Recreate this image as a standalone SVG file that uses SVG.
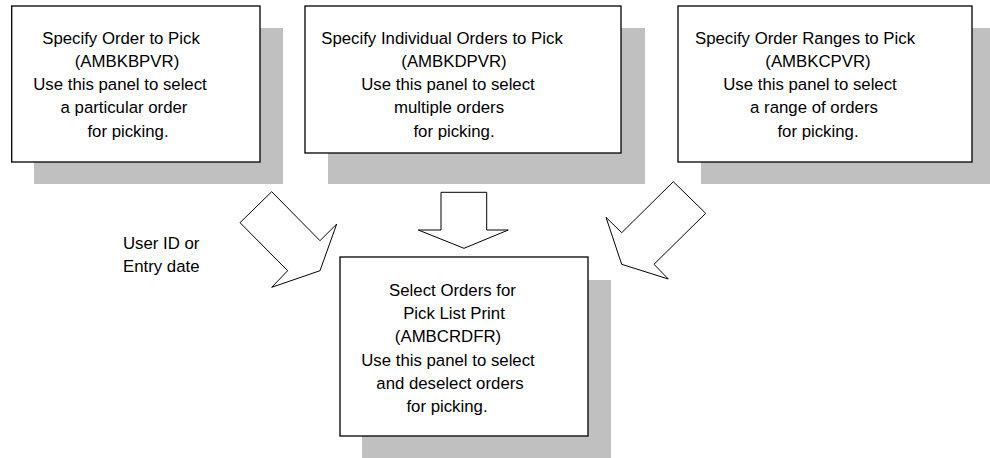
<svg xmlns="http://www.w3.org/2000/svg" width="990" height="458" viewBox="0 0 990 458">
<style>
.shadow{fill:#c0c0c0;stroke:none}
.box{fill:#fff;stroke:#000;stroke-width:1.3}
.arrow{fill:#fff;stroke:#000;stroke-width:1}
text{font-family:"Liberation Sans",Arial,sans-serif;font-size:16.8px;fill:#000;text-anchor:middle}
.lbl{text-anchor:start}
</style>
<rect width="990" height="458" fill="#fff"/>
<g id="node-ambkbpvr">
<rect class="shadow" x="34" y="28" width="249" height="156"/>
<rect class="box" x="11.7" y="6" width="248.3" height="156"/>
<text x="121" y="43.5">Specify Order to Pick</text>
<text x="127" y="66.8">(AMBKBPVR)</text>
<text x="120" y="90.1">Use this panel to select</text>
<text x="124" y="113.4">a particular order</text>
<text x="128" y="136.7">for picking.</text>
</g>
<g id="node-ambkdpvr">
<rect class="shadow" x="328" y="28" width="317" height="156"/>
<rect class="box" x="305" y="6" width="316" height="147"/>
<text x="442" y="43.5">Specify Individual Orders to Pick</text>
<text x="454" y="66.8">(AMBKDPVR)</text>
<text x="448" y="90.1">Use this panel to select</text>
<text x="449" y="113.4">multiple orders</text>
<text x="454" y="136.7">for picking.</text>
</g>
<g id="node-ambkcpvr">
<rect class="shadow" x="701" y="28" width="289" height="156"/>
<rect class="box" x="678" y="6" width="294" height="156"/>
<text x="805" y="43.5">Specify Order Ranges to Pick</text>
<text x="818" y="66.8">(AMBKCPVR)</text>
<text x="810" y="90.1">Use this panel to select</text>
<text x="814" y="113.4">a range of orders</text>
<text x="818" y="136.7">for picking.</text>
</g>
<g id="node-ambcrdfr">
<rect class="shadow" x="362" y="280" width="249" height="178"/>
<rect class="box" x="340" y="257" width="248" height="179"/>
<text x="452.5" y="295.7">Select Orders for</text>
<text x="454" y="319">Pick List Print</text>
<text x="448" y="342.3">(AMBCRDFR)</text>
<text x="448" y="365.6">Use this panel to select</text>
<text x="450" y="388.9">and deselect orders</text>
<text x="447" y="412.2">for picking.</text>
</g>
<g id="connectors">
<polygon class="arrow" points="271.7,191.7 320,240.7 336.7,224 320,270.7 271.7,287.3 287.7,270.7 240,222.7"/>
<polygon class="arrow" points="441,192.3 486.7,192.3 486.7,230 508.3,230 464,248.3 418.3,230 441,230"/>
<polygon class="arrow" points="673.3,181.7 705.7,213.3 654,264.3 668.3,279 621.7,264.3 606,217.3 621.7,232.7"/>
<text class="lbl" x="123" y="249.3">User ID or</text>
<text class="lbl" x="123" y="271.7">Entry date</text>
</g>
</svg>
